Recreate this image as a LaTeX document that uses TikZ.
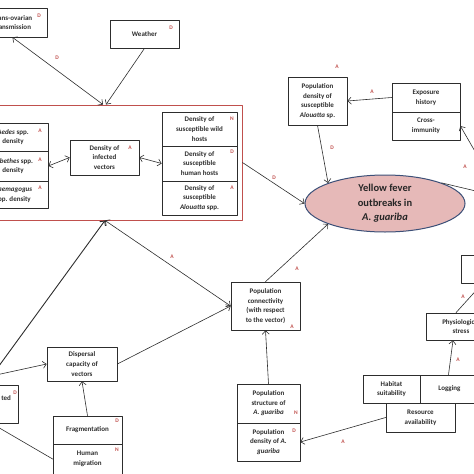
\documentclass[tikz,border=0pt]{standalone}
\usepackage{fontspec}
\setmainfont{Carlito}
\usetikzlibrary{shapes.geometric,arrows.meta}
\definecolor{lblred}{RGB}{192,80,77}
\definecolor{boxred}{RGB}{192,80,77}
\definecolor{ellfill}{RGB}{230,185,184}
\definecolor{elldraw}{RGB}{60,80,120}
\definecolor{txtgray}{RGB}{45,45,45}
\tikzset{
  box/.style={draw=txtgray, line width=0.7pt, align=center, inner sep=1pt, text=txtgray,
    font=\fontsize{7}{9.6}\selectfont\bfseries},
  sz/.style 2 args={minimum width=#1pt, minimum height=#2pt},
  lbl/.style={text=lblred, inner sep=0pt, font=\fontsize{5.5}{6}\selectfont\bfseries},
  link/.style={draw=txtgray, line width=0.6pt},
}
\begin{document}
\begin{tikzpicture}[x=1pt,y=-1pt,>={Straight Barb[length=3.5pt,width=7pt]},line cap=round,line join=round]
\useasboundingbox (0,0) rectangle (474,474);
\clip (0,0) rectangle (474,474);
% vector group
\node[draw=boxred, line width=0.9pt, sz={250}{115}] (vecbox) at (117,162.5) {};
\node[box, sz={69}{29}] (transov) at (12.5,22.5) {Trans-ovarian\\transmission};
\node[box, sz={69}{28}] (weather) at (144.5,34) {Weather};
\node[box, sz={70}{28}] (aedes) at (13,137) {\textit{Aedes} spp.\\density};
\node[box, sz={70}{30}] (sabethes) at (13,166) {\textit{Sabethes} spp.\\density};
\node[box, sz={70}{27}] (haemag) at (13,194.5) {\textit{Haemagogus}\\spp. density};
\node[box, sz={69}{35}] (infected) at (104.5,157.5) {Density of\\infected\\vectors};
\node[box, sz={75}{34}] (wild) at (199.5,129) {Density of\\susceptible wild\\hosts};
\node[box, sz={75}{35}] (human) at (199.5,163.5) {Density of\\susceptible\\human hosts};
\node[box, sz={75}{34}] (alouatta) at (199.5,198) {Density of\\susceptible\\\textit{Alouatta} spp.};
% outcome
\node[ellipse, draw=elldraw, fill=ellfill, line width=1pt, sz={160}{57}, inner sep=0pt, align=center,
  text=black!85, font=\fontsize{10.5}{14.5}\selectfont\bfseries] (yf) at (385,203.5)
  {Yellow fever\\outbreaks in\\\textit{A. guariba}};
\node[box, sz={59}{48}] (popsus) at (317.5,101) {Population\\density of\\susceptible\\\textit{Alouatta} sp.};
\node[box, sz={68}{29}] (exposure) at (426,97.5) {Exposure\\history};
\node[box, sz={68}{28}] (crossimm) at (426,126) {Cross-\\immunity};
\node[box, sz={69}{28}] (climbox) at (495.5,269) {};
\node[box, sz={69}{27}] (physio) at (461,326.5) {Physiological\\stress};
\node[box, sz={57}{28}] (habitat) at (391.5,389) {Habitat\\suitability};
\node[box, sz={59}{28}] (logging) at (449.5,389) {Logging};
\node[box, sz={69}{29}] (resource) at (420.5,417.5) {Resource\\availability};
\node[box, sz={63}{39}] (popstruct) at (268.5,403.5) {Population\\structure of\\\textit{A. guariba}};
\node[box, sz={63}{38}] (popdens) at (268.5,442) {Population\\density of \textit{A.}\\\textit{guariba}};
\node[box, sz={69}{48}] (connect) at (265.5,306) {Population\\connectivity\\(with respect\\to the vector)};
\node[box, sz={70}{34}] (dispersal) at (82,364) {Dispersal\\capacity of\\vectors};
\node[box, sz={69}{28}] (frag) at (87.5,430) {Fragmentation};
\node[box, sz={69}{30}] (humanmig) at (87.5,459) {Human\\migration};
\node[box, sz={68}{38}, text width=54pt, align=right] (tedbox) at (-16,404) {ted\\\strut};
% free ends
\coordinate (rtin) at (480,160);
\coordinate (rtout) at (480,192);
\coordinate (lfin) at (-4,370);
\coordinate (lfdisp) at (-4,375);
\coordinate (lfmig) at (-4,426);
% connectors
\draw[link,<->] (transov.south) -- ([xshift=-14pt]vecbox.north);
\draw[link,->] (weather.south) -- ([xshift=-11pt]vecbox.north);
\draw[link,<->] (sabethes.east) -- (infected.west);
\draw[link,<->] (infected.east) -- (human.west);
\draw[link,->] (vecbox.east) -- (yf.west);
\draw[link,->] (popsus.south) -- (yf.north west);
\draw[link,->] (exposure.west) -- (popsus.east);
\draw[link,->] (rtin) -- (crossimm.east);
\draw[link] (yf.20) -- (rtout);
\draw[link,->] ([xshift=-5pt]physio.north) -- ([xshift=-13pt]climbox.south);
\draw[link,->] ([xshift=-1pt]logging.north) -- ([xshift=-8pt]physio.south);
\draw[link,->] (resource.west) -- (popdens.east);
\draw[link,->] (popstruct.north) -- (connect.south);
\draw[link,->] (connect.north) -- (yf.south west);
\draw[link,<->] ([xshift=-12pt]vecbox.south) -- (connect.west);
\draw[link,->] (dispersal.east) -- (connect.west);
\draw[link,->,line width=0.9pt] (lfin) -- ([xshift=-12pt]vecbox.south);
\draw[link,->] (lfdisp) -- (dispersal.west);
\draw[link,->] (frag.north) -- (dispersal.south);
\draw[link] (humanmig.west) -- (lfmig);
% red labels
\node[lbl] (l1) at (39,16) {D};
\node[lbl] (l2) at (171,28) {D};
\node[lbl] (l3) at (57,58) {D};
\node[lbl] (l4) at (40,131) {A};
\node[lbl] (l5) at (40,160) {A};
\node[lbl] (l6) at (40,188) {A};
\node[lbl] (l7) at (130,148) {A};
\node[lbl] (l8) at (232,119) {N};
\node[lbl] (l9) at (232,152) {D};
\node[lbl] (l10) at (232,188) {A};
\node[lbl] (l11) at (274,178) {D};
\node[lbl] (l12) at (337,67) {A};
\node[lbl] (l13) at (332,148) {D};
\node[lbl] (l14) at (372,92) {A};
\node[lbl] (l15) at (465,167) {A};
\node[lbl] (l16) at (463,297) {A};
\node[lbl] (l17) at (458,360) {A};
\node[lbl] (l18) at (343,442) {A};
\node[lbl] (l19) at (296,413) {N};
\node[lbl] (l20) at (294,431) {D};
\node[lbl] (l21) at (292,327) {A};
\node[lbl] (l22) at (297,269) {A};
\node[lbl] (l23) at (172,257) {A};
\node[lbl] (l24) at (15,393) {D};
\node[lbl] (l25) at (117,421) {D};
\node[lbl] (l26) at (117,450) {N};
\end{tikzpicture}
\end{document}
